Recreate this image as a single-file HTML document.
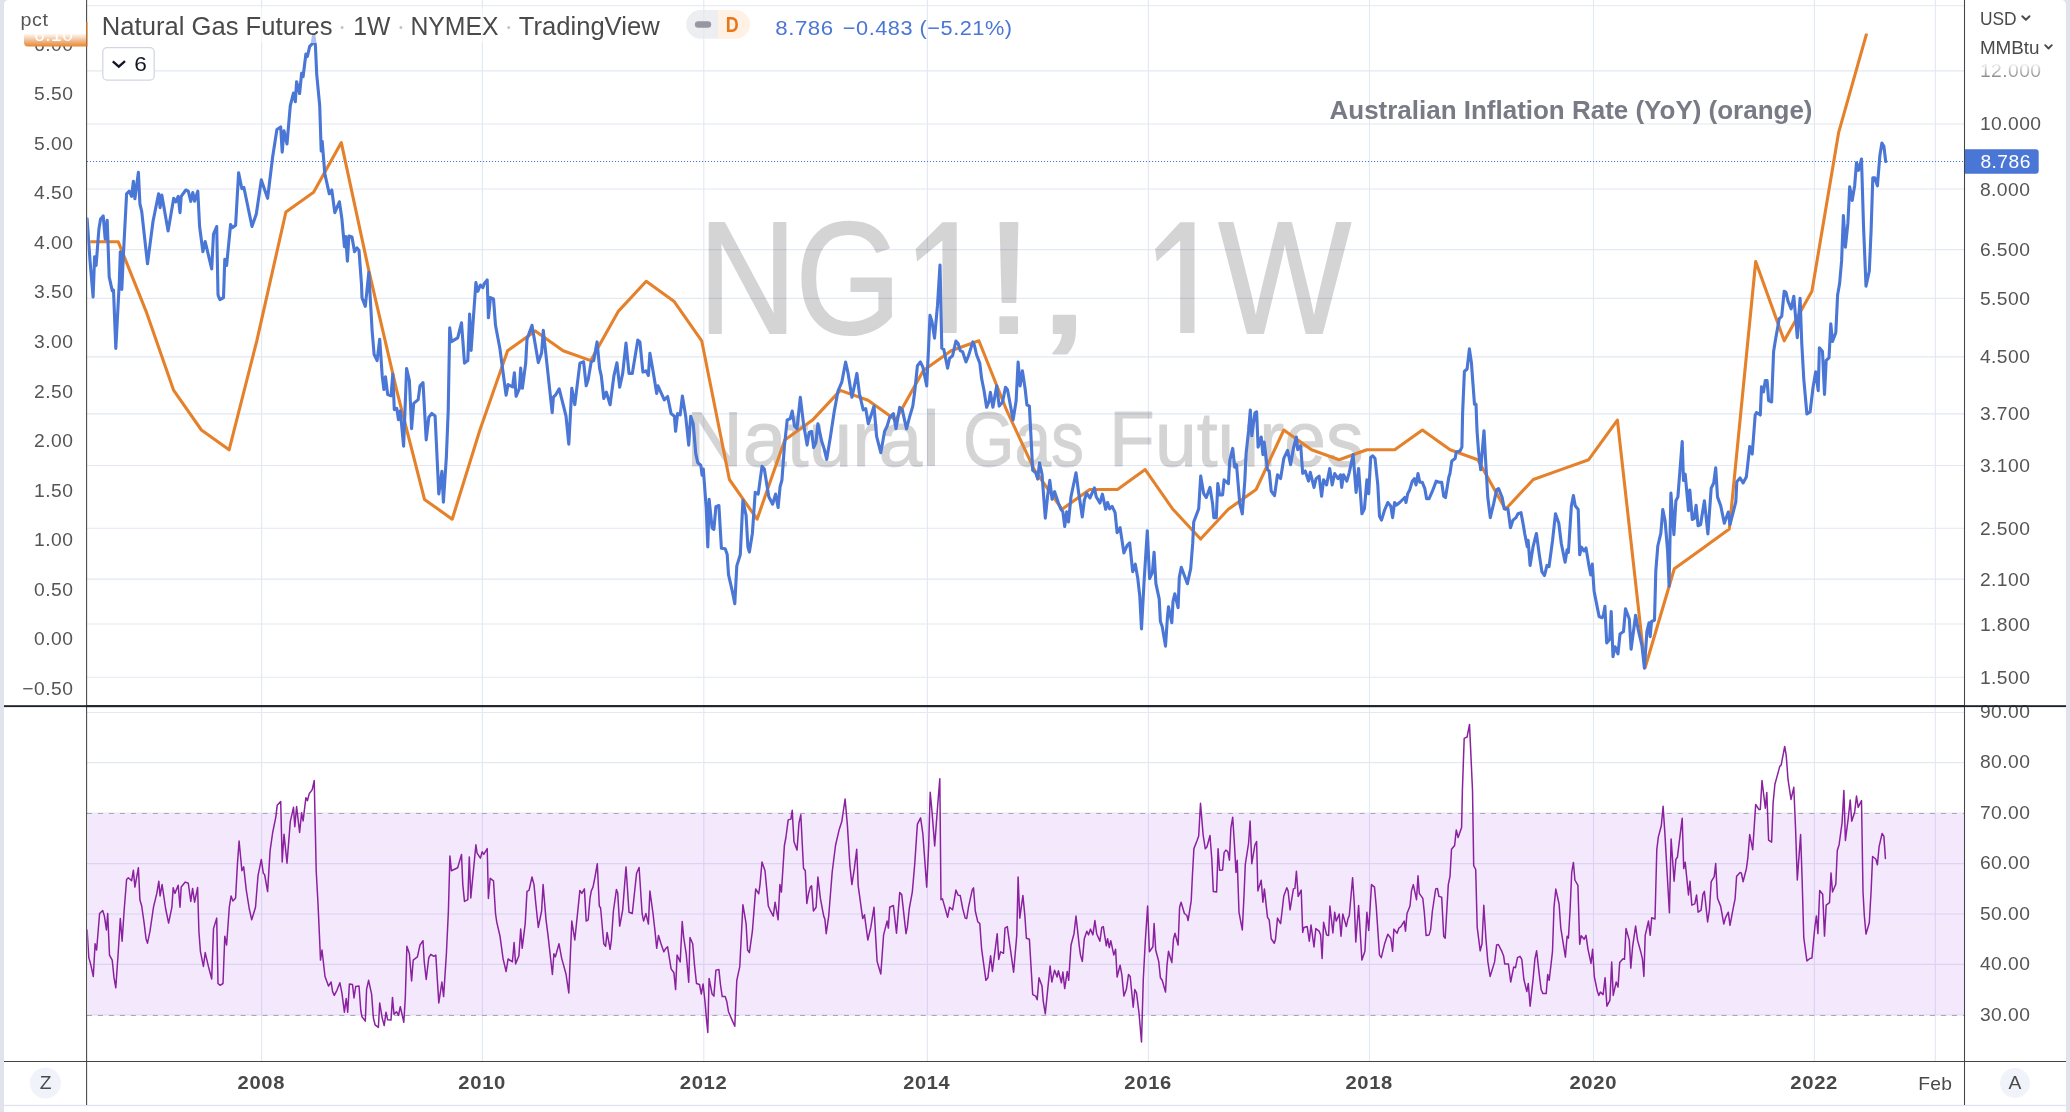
<!DOCTYPE html>
<html><head><meta charset="utf-8"><title>Natural Gas Futures</title>
<style>html,body{margin:0;padding:0;background:#fff}body{width:2070px;height:1112px;overflow:hidden;position:relative;font-family:"Liberation Sans",sans-serif}</style></head><body>
<svg width="2070" height="1112" viewBox="0 0 2070 1112" style="position:absolute;left:0;top:0" font-family="Liberation Sans, sans-serif">
<rect x="0" y="0" width="2070" height="1112" fill="#ffffff"/>
<defs><clipPath id="plot"><rect x="87.3" y="0" width="1877" height="1061"/></clipPath><linearGradient id="fadeL" x1="0" y1="0" x2="0" y2="1"><stop offset="0" stop-color="#fff" stop-opacity="1"/><stop offset="0.71" stop-color="#fff" stop-opacity="1"/><stop offset="1" stop-color="#fff" stop-opacity="0"/></linearGradient><linearGradient id="fadeR" x1="0" y1="0" x2="0" y2="1"><stop offset="0" stop-color="#fff" stop-opacity="1"/><stop offset="0.74" stop-color="#fff" stop-opacity="1"/><stop offset="1" stop-color="#fff" stop-opacity="0"/></linearGradient></defs>
<g stroke="#e2e9f3" stroke-width="1.15">
<line x1="86.6" x2="1964.5" y1="5.7" y2="5.7"/>
<line x1="86.6" x2="1964.5" y1="70.8" y2="70.8"/>
<line x1="86.6" x2="1964.5" y1="124.0" y2="124.0"/>
<line x1="86.6" x2="1964.5" y1="189.0" y2="189.0"/>
<line x1="86.6" x2="1964.5" y1="249.6" y2="249.6"/>
<line x1="86.6" x2="1964.5" y1="298.3" y2="298.3"/>
<line x1="86.6" x2="1964.5" y1="356.8" y2="356.8"/>
<line x1="86.6" x2="1964.5" y1="413.9" y2="413.9"/>
<line x1="86.6" x2="1964.5" y1="465.5" y2="465.5"/>
<line x1="86.6" x2="1964.5" y1="528.2" y2="528.2"/>
<line x1="86.6" x2="1964.5" y1="579.1" y2="579.1"/>
<line x1="86.6" x2="1964.5" y1="624.0" y2="624.0"/>
<line x1="86.6" x2="1964.5" y1="677.2" y2="677.2"/>
<line x1="86.6" x2="1964.5" y1="712.5" y2="712.5"/>
<line x1="86.6" x2="1964.5" y1="762.6" y2="762.6"/>
<line x1="86.6" x2="1964.5" y1="813.0" y2="813.0"/>
<line x1="86.6" x2="1964.5" y1="863.6" y2="863.6"/>
<line x1="86.6" x2="1964.5" y1="914.0" y2="914.0"/>
<line x1="86.6" x2="1964.5" y1="964.4" y2="964.4"/>
<line x1="86.6" x2="1964.5" y1="1015.0" y2="1015.0"/>
<line x1="261.6" x2="261.6" y1="0" y2="1061.5"/>
<line x1="482.4" x2="482.4" y1="0" y2="1061.5"/>
<line x1="703.8" x2="703.8" y1="0" y2="1061.5"/>
<line x1="927.4" x2="927.4" y1="0" y2="1061.5"/>
<line x1="1148.4" x2="1148.4" y1="0" y2="1061.5"/>
<line x1="1369.5" x2="1369.5" y1="0" y2="1061.5"/>
<line x1="1593.5" x2="1593.5" y1="0" y2="1061.5"/>
<line x1="1814.4" x2="1814.4" y1="0" y2="1061.5"/>
<line x1="1935.3" x2="1935.3" y1="0" y2="1061.5"/>
</g>
<g opacity="0.17" fill="#000" stroke="#000" stroke-linejoin="round">
<g stroke-width="2.2">
<text transform="translate(698.53,332.50) scale(0.8489,1)" font-size="160" fill="#000">N</text>
<text transform="translate(795.51,332.50) scale(0.8492,1)" font-size="160" fill="#000">G</text>
<text transform="translate(985.09,332.50) scale(1.0769,1)" font-size="160" fill="#000">!</text>
<text transform="translate(1034.43,332.50) scale(1.3313,1)" font-size="160" fill="#000">,</text>
<text transform="translate(1218.45,332.50) scale(0.8770,1)" font-size="160" fill="#000">W</text>
</g><g stroke="none">
<path d="M942.4,222.2 H956.7 V333 H942.4 V240.5 L917.1,261.5 L915.6,249 Z"/>
<path d="M1180.2,222.2 H1194.5 V333 H1180.2 V240.5 L1156.7,261.5 L1155.2,249 Z"/>
</g><g stroke-width="1.0">
<text transform="translate(686.00,466.30) scale(1.0159,1)" font-size="77.5" fill="#000">Natural</text>
<text transform="translate(963.00,466.30) scale(0.8524,1)" font-size="77.5" fill="#000">Gas</text>
<text transform="translate(1109.10,466.30) scale(0.9684,1)" font-size="77.5" fill="#000">Futures</text>
</g></g>
<rect x="88" y="813.6" width="1876.5" height="201.6" fill="#9119eb" fill-opacity="0.1"/>
<g stroke="#aea6ae" stroke-width="1.05" stroke-dasharray="5 5.97"><line x1="87" x2="1964.5" y1="813.4" y2="813.4"/><line x1="87" x2="1964.5" y1="1015.4" y2="1015.4"/></g>
<line x1="87" x2="1964.5" y1="161.5" y2="161.5" stroke="#4a76d6" stroke-width="1.05" stroke-dasharray="1.1 1.9"/>
<g clip-path="url(#plot)" fill="none" stroke-linejoin="round" stroke-linecap="round">
<path d="M90.3,241.7 L118.2,241.7 L146.0,311.1 L173.7,390.4 L201.4,430.0 L229.1,449.8 L256.8,340.8 L285.9,212.0 L313.6,192.2 L341.3,142.6 L369.0,271.4 L396.7,390.4 L424.5,499.4 L452.2,519.2 L479.9,430.0 L507.6,350.7 L535.3,330.9 L563.1,350.7 L590.8,360.6 L618.5,311.1 L646.2,281.3 L673.9,301.2 L701.7,340.8 L729.4,479.5 L757.1,519.2 L784.8,439.9 L812.5,420.1 L840.3,390.4 L868.0,400.3 L895.7,420.1 L923.4,370.5 L951.1,350.7 L978.9,340.8 L1006.6,410.2 L1034.3,469.6 L1062.0,509.3 L1089.7,489.5 L1117.5,489.5 L1145.2,469.6 L1172.9,509.3 L1200.6,539.0 L1228.3,509.3 L1256.1,489.5 L1283.8,430.0 L1311.5,449.8 L1339.2,459.7 L1366.9,449.8 L1394.7,449.8 L1422.4,430.0 L1450.1,449.8 L1477.8,459.7 L1505.5,509.3 L1533.3,479.5 L1561.0,469.6 L1588.7,459.7 L1617.4,420.1 L1645.1,667.8 L1674.3,568.7 L1701.8,548.9 L1729.3,529.1 L1755.7,261.5 L1784.2,340.8 L1811.9,291.3 L1838.6,132.7 L1866.6,33.6" stroke="#e5812b" stroke-width="3.1" stroke-linecap="butt"/>
<path d="M87.1,218.9 L90.1,261.7 L93.1,297.0 L94.6,256.7 L96.1,265.5 L98.9,229.0 L100.6,218.9 L103.2,215.9 L105.2,239.1 L107.2,220.2 L109.2,276.9 L112.2,290.7 L113.5,290.1 L115.8,348.5 L119.3,282.5 L120.3,251.7 L121.8,289.4 L123.3,256.7 L126.6,193.8 L129.1,191.2 L131.6,196.3 L133.4,181.2 L134.9,198.8 L138.4,172.3 L139.9,203.8 L141.7,211.4 L147.5,263.8 L153.0,221.5 L158.6,193.8 L160.1,207.6 L161.8,195.0 L168.1,231.0 L173.7,198.3 L175.7,201.8 L178.2,196.3 L180.0,212.6 L181.2,196.3 L185.8,190.0 L188.3,191.2 L190.8,201.3 L192.8,192.5 L194.6,201.3 L197.8,191.2 L199.6,226.5 L202.9,251.7 L205.2,241.6 L211.7,268.8 L213.5,234.0 L216.7,226.5 L218.0,294.5 L218.5,296.4 L220.0,299.6 L223.5,297.6 L224.8,259.2 L226.6,265.5 L230.6,224.5 L232.3,227.7 L235.6,225.2 L238.6,172.9 L241.9,188.7 L243.9,187.5 L252.0,226.5 L256.3,213.9 L261.3,179.9 L267.6,198.3 L272.6,157.2 L276.9,129.5 L280.7,127.0 L282.2,152.2 L284.0,130.8 L287.0,143.9 L290.3,105.6 L293.5,93.0 L295.3,101.8 L296.6,81.7 L299.6,93.5 L301.6,73.4 L303.1,76.7 L305.9,54.0 L307.4,56.5 L309.7,46.4 L312.2,43.9 L313.7,34.6 L315.4,45.2 L316.7,74.1 L319.7,105.6 L321.2,150.9 L322.2,141.4 L324.8,173.6 L329.3,193.8 L331.8,190.0 L334.8,212.6 L339.4,201.8 L341.9,218.9 L344.4,246.6 L345.7,236.6 L347.4,261.2 L348.9,236.1 L352.0,237.1 L354.5,251.7 L357.0,247.9 L359.0,250.4 L361.5,284.4 L362.0,297.6 L365.3,306.4 L368.8,272.4 L372.1,330.4 L374.1,354.3 L377.1,360.6 L379.7,339.2 L382.2,375.7 L383.9,389.5 L385.5,376.9 L387.7,394.6 L391.0,395.8 L392.8,374.4 L394.3,409.7 L396.8,408.4 L398.5,419.8 L400.3,410.9 L403.6,446.2 L406.6,368.6 L409.4,380.7 L411.6,428.6 L413.7,403.4 L418.2,399.6 L420.0,385.8 L423.0,382.7 L426.2,439.9 L428.8,417.2 L431.8,413.5 L435.1,416.0 L438.8,494.0 L441.9,471.4 L443.4,502.1 L446.4,456.3 L448.2,410.9 L449.7,327.8 L451.4,341.7 L457.7,337.9 L461.5,322.8 L464.5,363.1 L467.8,360.6 L469.6,314.0 L471.1,350.5 L475.9,282.5 L477.9,291.3 L480.4,285.0 L482.9,287.6 L484.2,283.8 L487.2,280.0 L488.4,317.8 L490.5,297.6 L493.5,298.9 L495.5,325.3 L499.8,348.0 L506.1,395.3 L508.1,384.5 L512.6,387.0 L514.4,372.7 L516.1,396.3 L519.4,388.3 L520.7,368.1 L522.4,388.3 L525.7,363.1 L527.0,339.2 L532.0,325.3 L538.3,362.6 L541.6,353.0 L543.3,330.4 L552.2,412.7 L553.4,397.1 L555.9,394.6 L559.2,388.8 L562.2,400.9 L566.0,416.0 L568.8,444.2 L571.8,388.3 L574.8,404.6 L579.9,363.1 L583.6,361.8 L586.2,385.8 L588.2,379.5 L591.2,361.8 L593.7,360.6 L597.1,341.9 L599.6,368.3 L601.3,375.9 L603.8,398.5 L606.4,392.2 L610.1,404.8 L613.9,375.9 L616.9,362.8 L619.7,387.2 L622.7,373.4 L626.0,343.1 L629.0,373.4 L632.3,373.4 L637.8,340.1 L639.9,341.9 L642.9,372.1 L645.9,370.8 L648.4,375.4 L649.9,353.2 L653.0,370.8 L656.7,393.5 L658.0,385.9 L664.3,399.8 L667.6,396.5 L671.1,413.6 L674.4,416.2 L675.6,431.3 L677.6,413.6 L680.2,414.9 L682.4,396.0 L685.7,416.2 L688.7,445.1 L690.7,416.2 L693.2,423.7 L695.8,453.9 L697.8,462.7 L700.8,465.2 L702.1,475.3 L703.3,469.0 L706.3,509.2 L707.8,547.0 L709.1,499.2 L712.1,528.1 L713.9,529.4 L715.9,506.7 L718.9,505.5 L721.4,548.3 L725.2,548.8 L727.2,554.6 L728.5,574.7 L732.3,591.1 L734.8,603.7 L736.8,565.9 L740.3,554.6 L742.9,500.4 L746.1,515.5 L747.9,547.0 L749.4,552.1 L752.4,533.2 L755.2,492.4 L758.2,494.1 L762.0,466.4 L764.3,469.0 L768.8,496.7 L772.6,504.2 L775.6,494.1 L778.1,507.5 L780.1,486.6 L781.9,480.3 L784.4,446.3 L787.2,419.9 L790.2,418.7 L792.2,411.1 L794.5,426.2 L797.0,428.8 L800.3,397.3 L803.5,423.7 L807.1,445.1 L809.1,432.5 L811.6,431.3 L813.6,447.6 L815.9,442.6 L817.9,423.7 L821.7,441.3 L824.2,448.9 L826.7,459.5 L830.5,436.3 L834.3,411.1 L838.0,391.0 L841.8,382.2 L845.6,362.0 L848.1,373.4 L851.9,397.3 L854.4,385.9 L856.9,373.4 L859.4,393.5 L863.2,409.9 L865.7,408.6 L868.3,423.7 L872.0,412.4 L874.0,406.1 L876.6,436.3 L880.8,452.7 L884.6,431.3 L887.1,426.2 L889.7,417.4 L893.4,413.6 L896.0,428.8 L899.7,407.3 L902.3,409.9 L906.5,428.8 L909.8,416.2 L912.8,406.1 L914.8,391.0 L917.4,365.8 L920.4,362.0 L922.9,367.1 L926.7,385.9 L928.2,355.7 L930.0,315.4 L932.0,321.7 L934.5,338.1 L937.5,305.4 L940.0,265.1 L941.8,348.2 L943.8,349.4 L947.6,368.3 L949.6,358.2 L952.6,355.7 L955.9,341.1 L958.2,343.6 L960.2,350.7 L962.7,351.9 L966.0,362.0 L968.5,355.7 L972.8,341.9 L974.5,345.7 L976.5,354.5 L979.8,363.3 L981.6,378.4 L984.1,391.0 L986.6,407.3 L989.1,401.1 L990.4,392.2 L992.9,407.3 L996.7,385.9 L999.2,406.1 L1002.5,402.3 L1005.5,387.2 L1007.5,389.7 L1013.1,419.9 L1016.1,401.1 L1018.1,362.0 L1020.1,385.9 L1022.4,370.8 L1025.1,388.5 L1026.9,404.8 L1029.4,406.1 L1032.7,470.3 L1035.7,472.8 L1037.7,479.1 L1039.5,462.7 L1042.0,474.1 L1045.3,518.1 L1047.8,494.2 L1049.8,480.4 L1052.1,499.3 L1054.6,491.7 L1058.4,503.0 L1060.9,509.3 L1062.9,511.9 L1064.7,526.5 L1066.7,511.9 L1068.5,521.9 L1071.0,496.7 L1076.0,472.8 L1078.5,491.7 L1082.3,516.9 L1084.3,500.5 L1086.6,493.0 L1089.9,498.0 L1094.4,487.9 L1096.2,496.7 L1099.9,503.0 L1102.4,494.2 L1105.7,509.3 L1107.6,502.5 L1109.6,508.8 L1112.1,506.3 L1115.1,512.6 L1117.1,532.7 L1120.1,527.7 L1123.9,552.9 L1127.2,545.3 L1129.7,542.8 L1132.7,571.7 L1135.3,564.2 L1137.8,578.6 L1139.8,596.3 L1141.5,629.0 L1144.1,581.2 L1147.3,530.8 L1149.6,578.6 L1152.4,572.3 L1154.1,552.2 L1155.9,583.7 L1159.2,598.8 L1160.4,621.5 L1162.2,626.5 L1165.5,646.1 L1167.5,616.4 L1168.5,606.8 L1171.8,622.7 L1173.0,601.3 L1174.8,593.8 L1178.1,607.6 L1179.3,577.4 L1181.3,567.3 L1187.4,583.7 L1190.7,568.6 L1192.7,543.4 L1193.7,522.0 L1198.7,508.8 L1200.7,476.1 L1203.7,493.7 L1206.3,497.5 L1210.0,487.4 L1212.6,503.8 L1213.8,517.6 L1216.3,517.6 L1217.8,483.6 L1219.6,494.9 L1222.6,494.9 L1224.1,479.8 L1228.4,483.6 L1229.7,460.9 L1232.7,448.4 L1234.7,467.2 L1236.5,464.7 L1239.8,503.8 L1242.3,513.8 L1244.8,481.1 L1246.1,453.4 L1248.6,430.7 L1250.3,410.1 L1251.8,435.8 L1254.9,413.1 L1256.6,411.8 L1258.1,447.1 L1261.2,437.0 L1262.9,454.6 L1264.2,442.1 L1267.5,469.8 L1269.2,471.0 L1271.2,491.2 L1274.5,495.7 L1277.5,474.8 L1280.6,478.6 L1283.8,458.4 L1287.6,450.4 L1290.6,464.7 L1293.4,448.4 L1296.4,437.0 L1297.7,449.6 L1300.7,445.8 L1302.7,473.5 L1305.2,471.0 L1308.5,481.1 L1310.3,472.3 L1314.0,487.4 L1316.1,478.6 L1319.1,476.1 L1321.6,496.2 L1323.6,479.8 L1326.6,484.9 L1329.7,468.5 L1332.2,484.9 L1334.7,473.5 L1338.0,478.6 L1340.5,474.8 L1341.7,487.4 L1343.5,474.8 L1346.8,481.1 L1349.3,472.3 L1353.1,454.6 L1356.1,492.4 L1358.6,468.5 L1361.9,513.8 L1364.4,508.8 L1366.9,479.8 L1368.7,493.7 L1370.7,457.2 L1372.7,455.9 L1375.0,458.4 L1377.8,484.9 L1379.5,516.3 L1381.5,520.1 L1384.6,510.0 L1387.8,502.5 L1390.8,506.3 L1392.6,517.6 L1394.6,502.5 L1396.6,505.0 L1399.7,502.5 L1404.7,497.5 L1406.0,502.5 L1407.7,493.7 L1409.7,489.9 L1412.3,481.1 L1414.3,478.6 L1416.0,484.9 L1418.0,473.5 L1419.8,482.3 L1422.3,482.3 L1424.8,488.6 L1426.6,498.7 L1429.1,498.7 L1432.4,491.2 L1436.2,481.1 L1439.2,482.3 L1441.7,482.3 L1443.7,496.2 L1445.5,497.5 L1448.8,477.3 L1450.0,473.5 L1451.8,460.9 L1455.1,458.4 L1456.3,452.1 L1460.1,450.9 L1461.9,447.1 L1462.6,413.1 L1464.4,371.5 L1467.1,369.0 L1469.4,348.9 L1471.4,362.7 L1472.7,380.4 L1474.5,404.3 L1476.0,404.3 L1477.0,430.7 L1478.5,450.9 L1480.7,469.8 L1484.0,430.7 L1485.8,463.5 L1487.8,497.5 L1490.3,517.6 L1493.6,503.8 L1496.6,489.9 L1498.6,488.6 L1502.2,497.5 L1504.2,508.8 L1507.9,508.8 L1510.5,527.7 L1513.0,520.1 L1516.0,517.6 L1518.0,513.8 L1521.0,512.6 L1523.1,523.9 L1524.8,534.0 L1527.3,546.6 L1528.1,540.3 L1530.1,565.4 L1533.1,546.6 L1536.4,533.5 L1539.4,555.4 L1541.9,571.7 L1544.5,575.5 L1547.0,565.4 L1549.0,566.7 L1552.5,540.9 L1555.5,513.7 L1558.8,523.3 L1561.3,543.5 L1565.1,562.3 L1567.1,549.8 L1568.4,552.3 L1571.4,505.7 L1573.4,495.6 L1575.2,505.7 L1578.2,509.5 L1579.7,554.8 L1581.5,547.2 L1584.0,551.0 L1586.0,548.0 L1589.0,566.1 L1590.8,574.9 L1592.3,564.1 L1594.1,591.3 L1596.6,603.9 L1599.1,616.5 L1602.1,617.7 L1603.4,615.2 L1604.9,606.4 L1606.7,642.9 L1609.7,639.2 L1611.2,611.5 L1613.0,656.8 L1615.0,646.7 L1618.0,653.8 L1620.0,634.1 L1623.5,631.6 L1625.5,608.9 L1629.3,619.0 L1631.1,649.2 L1635.6,615.2 L1638.1,629.1 L1641.9,645.4 L1644.4,668.1 L1646.9,631.6 L1649.0,622.8 L1650.2,636.6 L1651.5,621.5 L1654.5,620.3 L1655.8,571.2 L1657.8,546.0 L1660.8,533.4 L1662.8,509.5 L1665.1,520.8 L1667.6,551.0 L1669.1,586.3 L1670.9,493.1 L1673.9,534.6 L1675.9,500.7 L1677.9,496.9 L1682.2,441.5 L1683.5,480.5 L1685.2,474.2 L1688.5,510.7 L1689.8,490.1 L1692.3,519.5 L1694.3,518.3 L1696.1,505.2 L1698.1,525.8 L1700.6,524.6 L1704.4,500.7 L1707.9,533.9 L1711.2,488.1 L1713.7,483.0 L1715.7,467.9 L1717.5,496.9 L1720.7,505.7 L1724.3,523.3 L1728.3,512.0 L1730.0,524.6 L1735.8,501.9 L1736.8,481.8 L1740.1,478.0 L1743.1,483.0 L1746.4,476.7 L1749.7,446.5 L1752.2,454.1 L1755.2,415.0 L1756.5,412.5 L1760.3,415.0 L1761.5,386.9 L1763.5,391.9 L1765.3,380.6 L1767.1,380.6 L1768.6,400.7 L1771.6,402.0 L1773.6,351.6 L1775.4,340.3 L1779.2,318.9 L1781.7,316.3 L1784.2,291.2 L1786.0,292.4 L1788.0,301.2 L1791.2,308.8 L1793.8,296.2 L1797.3,337.7 L1800.1,298.2 L1801.8,344.0 L1803.8,379.3 L1806.9,414.0 L1810.1,412.0 L1813.1,386.9 L1815.7,371.7 L1818.2,390.6 L1819.4,347.8 L1822.5,351.6 L1824.5,394.4 L1826.2,360.4 L1829.0,357.9 L1830.8,323.9 L1832.5,341.5 L1835.8,332.7 L1837.6,294.9 L1839.6,283.6 L1841.6,260.9 L1843.4,215.6 L1845.4,247.1 L1847.9,223.2 L1849.7,186.7 L1852.2,200.5 L1854.7,185.4 L1856.5,162.7 L1858.5,170.3 L1861.5,159.0 L1863.5,225.7 L1866.0,286.1 L1869.3,271.0 L1871.1,230.7 L1872.8,177.8 L1874.8,177.8 L1877.4,185.9 L1879.9,155.2 L1881.9,143.1 L1883.9,146.4 L1885.7,161.5" stroke="#4a76d6" stroke-width="3.1"/>
<path d="M87.1,929.9 L88.8,957.6 L90.6,963.9 L93.3,976.5 L95.1,943.8 L96.6,950.0 L99.6,913.5 L102.7,910.5 L104.4,916.1 L106.4,929.9 L107.7,913.5 L109.5,955.1 L112.2,960.1 L114.0,977.7 L115.8,987.8 L118.3,951.3 L120.3,918.6 L122.1,941.2 L124.1,911.0 L126.6,879.5 L128.3,877.8 L131.6,880.8 L133.4,870.2 L134.9,887.1 L138.4,867.7 L139.9,899.7 L141.7,906.0 L144.2,923.6 L146.0,938.7 L147.5,943.2 L150.0,931.2 L153.5,907.2 L156.8,893.4 L158.8,881.3 L160.1,895.9 L162.1,884.6 L165.6,908.5 L168.6,923.1 L171.9,907.2 L173.2,887.8 L174.9,893.4 L178.2,885.3 L180.0,907.2 L181.2,887.1 L185.3,882.1 L188.3,883.3 L190.8,901.4 L192.6,888.4 L194.6,902.2 L197.6,887.6 L198.9,931.2 L200.4,951.3 L203.4,966.4 L205.2,952.6 L208.4,966.4 L211.7,979.0 L213.5,928.6 L216.7,918.1 L218.0,983.5 L220.0,985.3 L223.0,983.5 L224.8,936.2 L226.6,945.0 L229.3,907.2 L231.1,895.9 L232.9,900.9 L235.6,897.9 L237.4,864.4 L239.1,841.0 L241.9,870.7 L243.7,866.9 L246.2,889.6 L249.2,908.5 L251.7,919.8 L255.5,907.2 L258.0,875.8 L261.3,859.4 L263.3,873.2 L264.6,874.5 L267.6,891.6 L270.1,850.6 L272.6,833.0 L275.9,816.6 L277.2,805.3 L280.7,801.5 L282.2,861.9 L284.0,834.2 L287.0,863.2 L290.3,821.6 L293.5,807.3 L294.8,826.7 L296.6,806.5 L299.6,832.5 L301.6,812.8 L303.1,820.9 L305.9,797.7 L307.4,800.7 L309.2,793.9 L312.2,789.6 L314.2,780.6 L315.4,833.0 L316.2,870.7 L318.0,903.5 L319.7,941.2 L320.5,960.1 L322.0,950.0 L325.0,976.5 L328.5,986.1 L331.1,982.0 L332.6,991.6 L334.3,995.4 L336.9,990.3 L339.9,982.8 L341.9,992.9 L344.4,1012.2 L346.2,998.6 L347.7,1012.2 L349.4,984.0 L352.5,984.5 L354.0,997.9 L355.7,986.6 L359.0,986.1 L360.8,1010.5 L362.0,1016.8 L365.3,1021.1 L366.6,989.1 L368.6,980.3 L371.6,994.1 L373.4,1018.0 L375.1,1024.8 L378.4,1027.4 L379.7,1002.9 L382.2,1018.0 L384.2,1025.6 L386.0,1012.2 L387.7,1019.8 L391.0,1020.1 L392.5,997.4 L394.0,1014.3 L396.5,1011.7 L398.5,1015.5 L400.3,1006.7 L402.3,1015.5 L403.8,1022.3 L405.3,997.9 L406.9,946.3 L409.4,953.8 L411.6,981.0 L413.2,960.1 L417.4,956.8 L420.0,945.0 L423.0,940.7 L424.2,961.4 L426.2,979.5 L428.8,957.6 L430.8,954.3 L433.8,956.3 L435.8,955.1 L438.8,1002.9 L441.9,982.0 L443.6,996.6 L446.4,953.8 L448.4,911.0 L449.9,856.1 L451.4,870.7 L457.7,867.7 L461.5,854.4 L462.8,884.6 L464.5,901.4 L467.8,899.7 L469.3,856.9 L470.8,897.9 L475.9,844.8 L477.1,853.1 L480.4,858.1 L482.2,851.8 L483.7,854.4 L487.2,848.6 L488.4,898.4 L490.2,878.3 L493.5,880.8 L495.5,913.5 L496.8,922.3 L500.0,936.2 L503.1,958.9 L506.1,971.5 L508.1,958.9 L512.4,961.9 L514.1,942.5 L515.6,963.9 L518.9,955.8 L520.7,929.1 L522.2,948.3 L525.2,923.6 L527.0,891.4 L529.0,890.4 L532.0,877.0 L534.0,884.6 L535.8,903.5 L538.3,927.4 L541.6,911.0 L543.1,884.6 L545.9,918.6 L548.4,938.7 L552.4,974.5 L553.9,953.8 L555.4,956.8 L559.0,943.8 L561.7,958.4 L566.0,974.0 L568.8,992.9 L571.8,921.1 L574.8,940.0 L579.9,890.4 L581.9,893.4 L584.4,888.9 L586.2,921.1 L588.2,919.8 L590.0,898.4 L591.3,890.9 L593.0,887.1 L595.0,877.0 L597.3,863.7 L599.3,906.0 L600.6,908.0 L603.8,943.8 L605.6,946.3 L607.1,932.4 L610.1,949.3 L611.4,940.0 L613.4,911.0 L616.4,889.6 L617.7,892.9 L619.7,926.1 L622.7,909.8 L626.0,866.9 L629.0,912.3 L632.3,913.5 L636.6,873.2 L639.1,867.5 L642.1,913.5 L643.6,921.1 L645.9,913.5 L648.4,924.1 L649.9,890.9 L653.0,913.5 L655.0,931.2 L656.7,948.3 L658.5,935.4 L661.0,943.8 L663.8,951.8 L665.5,948.8 L667.6,946.8 L671.1,968.9 L673.9,972.7 L675.6,989.6 L677.1,955.1 L680.2,961.9 L682.2,921.6 L683.7,937.5 L686.2,953.8 L688.7,982.3 L690.0,937.5 L692.7,943.8 L694.5,965.2 L696.5,983.5 L699.5,984.5 L701.3,994.1 L703.1,984.0 L705.1,1002.9 L706.6,1020.6 L707.8,1032.4 L709.1,978.5 L712.1,994.1 L713.9,996.1 L715.9,970.2 L718.9,969.4 L720.4,984.0 L722.2,996.6 L725.2,996.6 L726.7,1001.2 L728.5,1011.7 L732.3,1020.6 L734.8,1026.3 L736.8,980.3 L739.8,966.4 L742.9,904.7 L746.1,923.6 L747.6,950.0 L749.4,952.6 L752.4,931.2 L755.7,888.9 L758.7,893.9 L760.0,884.6 L762.0,861.9 L765.0,870.7 L768.3,906.0 L770.0,909.8 L773.3,916.1 L775.1,902.2 L778.1,919.8 L779.9,884.6 L781.4,892.1 L784.4,845.5 L785.9,837.5 L788.2,819.9 L790.9,819.1 L792.2,810.3 L794.0,841.8 L797.0,850.1 L799.0,822.9 L800.8,814.8 L803.5,868.2 L805.3,870.7 L806.8,903.5 L808.6,893.4 L810.3,887.1 L811.6,885.8 L813.4,911.0 L816.1,907.2 L817.9,877.0 L820.4,898.4 L823.7,916.1 L824.9,919.1 L826.2,933.7 L828.7,916.1 L832.2,872.0 L835.5,845.5 L839.3,829.2 L841.8,821.6 L845.1,799.0 L847.4,825.4 L849.9,865.7 L851.9,884.6 L854.4,868.2 L856.7,849.3 L858.2,885.8 L862.7,918.6 L864.5,914.8 L867.8,940.0 L870.8,927.4 L874.0,907.2 L877.1,961.4 L880.8,974.0 L883.6,934.9 L887.1,921.1 L888.4,928.1 L889.7,907.2 L893.4,905.5 L896.5,933.2 L899.7,892.6 L901.7,894.6 L906.0,933.7 L907.3,927.4 L909.3,908.5 L912.3,892.1 L914.8,863.2 L917.4,824.1 L920.6,817.8 L922.9,834.2 L926.7,887.1 L928.7,845.5 L930.2,792.2 L932.0,811.5 L934.7,846.0 L937.5,807.8 L939.8,778.8 L941.0,899.7 L942.5,898.9 L947.6,917.3 L949.6,907.2 L952.6,909.8 L955.9,890.1 L958.2,895.2 L960.2,895.4 L962.7,908.5 L965.2,918.1 L966.7,918.6 L968.5,907.2 L972.3,889.6 L973.5,887.8 L975.3,911.0 L977.8,921.8 L979.8,923.6 L981.6,948.8 L985.9,980.3 L987.9,977.7 L990.6,955.8 L992.4,971.5 L997.2,933.7 L998.7,959.4 L1000.5,951.8 L1003.5,953.3 L1005.0,928.1 L1007.3,926.6 L1010.0,946.3 L1013.6,972.2 L1016.8,934.9 L1018.1,877.0 L1019.8,918.1 L1022.9,895.4 L1024.9,916.1 L1026.4,938.2 L1029.4,939.2 L1032.7,994.6 L1035.7,996.1 L1037.2,999.7 L1039.0,977.7 L1042.0,986.1 L1043.3,1001.7 L1045.3,1013.8 L1047.8,988.6 L1050.1,965.9 L1051.8,982.0 L1054.6,970.2 L1057.1,977.0 L1058.4,970.7 L1061.4,982.8 L1062.9,972.0 L1064.7,988.6 L1067.2,971.5 L1068.7,980.3 L1071.0,945.0 L1074.0,933.7 L1076.0,916.1 L1079.3,946.3 L1080.5,955.1 L1082.3,961.4 L1084.3,938.7 L1086.8,931.2 L1088.6,934.9 L1090.4,929.1 L1092.9,934.9 L1094.9,920.6 L1096.7,933.7 L1099.9,941.2 L1101.8,927.4 L1103.3,926.6 L1106.3,945.8 L1107.6,938.7 L1109.3,947.5 L1110.8,940.7 L1113.8,955.1 L1115.6,949.3 L1117.1,977.0 L1120.1,965.2 L1121.9,975.2 L1123.9,996.1 L1126.4,989.1 L1128.5,974.5 L1130.2,976.5 L1133.2,1007.2 L1134.8,989.6 L1136.5,992.9 L1139.0,1013.0 L1141.5,1042.0 L1143.3,979.0 L1145.3,941.2 L1147.6,906.0 L1149.4,951.8 L1152.9,946.8 L1154.1,923.6 L1155.7,950.0 L1158.7,961.4 L1160.4,977.7 L1162.2,980.3 L1165.5,992.1 L1167.0,965.2 L1168.5,951.3 L1171.8,962.6 L1173.5,938.7 L1175.0,933.2 L1178.1,945.0 L1179.6,907.2 L1181.1,902.2 L1184.4,913.5 L1186.9,915.5 L1188.1,920.6 L1191.2,900.9 L1192.4,875.8 L1193.9,848.6 L1196.9,841.0 L1198.7,836.0 L1200.5,803.2 L1203.2,835.5 L1205.3,848.8 L1207.0,846.8 L1210.0,835.5 L1211.8,859.4 L1213.3,891.4 L1216.6,892.1 L1218.1,848.8 L1219.6,870.2 L1222.6,870.0 L1224.1,852.6 L1225.9,850.1 L1227.9,851.8 L1229.4,860.2 L1230.9,827.9 L1232.7,817.3 L1234.5,845.5 L1236.0,872.5 L1237.2,860.2 L1239.0,912.3 L1242.3,929.9 L1244.0,895.9 L1245.3,864.4 L1248.6,843.0 L1250.1,821.1 L1251.8,863.7 L1254.9,845.0 L1256.6,841.5 L1257.9,890.9 L1261.2,880.3 L1262.9,902.2 L1264.4,888.9 L1267.5,917.3 L1269.2,919.8 L1271.2,938.7 L1274.3,943.2 L1275.5,939.2 L1277.5,918.1 L1280.6,923.6 L1281.8,913.5 L1283.8,895.9 L1286.8,887.8 L1288.1,890.9 L1290.1,909.8 L1293.4,888.9 L1294.9,888.4 L1296.4,871.2 L1298.2,896.4 L1301.2,890.1 L1302.7,932.4 L1304.0,927.4 L1307.2,926.6 L1309.3,941.2 L1311.0,924.9 L1314.0,947.0 L1315.8,928.6 L1319.1,931.2 L1320.6,934.9 L1322.1,958.4 L1323.6,922.3 L1326.6,934.9 L1328.6,935.4 L1329.9,906.0 L1332.9,932.9 L1334.7,912.3 L1336.2,921.1 L1339.2,914.0 L1341.0,936.2 L1342.8,914.0 L1346.3,926.6 L1348.0,918.6 L1349.3,915.5 L1352.6,877.8 L1354.3,903.5 L1355.8,942.0 L1358.6,905.5 L1361.9,960.1 L1364.9,951.3 L1366.9,912.3 L1368.7,930.4 L1370.2,906.0 L1371.5,884.6 L1374.5,887.1 L1376.2,906.0 L1379.5,955.1 L1381.3,957.6 L1384.6,943.8 L1387.8,934.2 L1390.8,938.2 L1392.6,951.3 L1393.9,929.1 L1397.1,933.2 L1398.9,928.1 L1400.9,926.6 L1404.2,921.1 L1405.5,931.2 L1407.0,913.5 L1410.0,906.0 L1411.5,890.9 L1413.3,884.6 L1416.5,899.7 L1418.0,875.8 L1419.3,893.4 L1422.8,898.4 L1424.3,912.3 L1426.1,935.4 L1429.1,934.9 L1430.6,929.9 L1432.4,911.0 L1435.7,888.9 L1437.4,888.4 L1438.9,896.4 L1441.7,897.2 L1443.7,936.2 L1445.2,938.2 L1448.3,884.6 L1450.0,876.3 L1451.5,849.3 L1454.6,845.5 L1456.3,829.9 L1458.1,837.5 L1461.6,827.4 L1462.4,790.0 L1464.2,738.4 L1467.1,737.0 L1469.5,724.4 L1472.5,790.0 L1473.7,865.7 L1475.7,869.5 L1477.2,927.4 L1480.2,950.8 L1482.0,943.8 L1483.8,905.2 L1485.8,937.0 L1487.8,961.4 L1490.1,976.5 L1494.6,961.9 L1496.6,945.0 L1498.4,944.5 L1501.6,950.8 L1503.7,956.3 L1504.7,963.9 L1508.4,963.9 L1510.7,982.0 L1513.7,966.9 L1515.5,967.7 L1517.5,957.6 L1520.0,956.3 L1521.8,959.4 L1523.8,979.0 L1526.8,991.6 L1528.3,983.5 L1530.1,1006.2 L1533.1,979.0 L1534.9,958.9 L1536.6,950.8 L1539.2,974.0 L1541.2,989.8 L1542.9,993.6 L1546.2,993.6 L1547.7,974.5 L1549.2,980.3 L1552.5,951.3 L1554.0,907.2 L1555.8,889.1 L1559.1,904.2 L1560.8,928.1 L1565.4,957.1 L1567.1,936.2 L1568.4,938.2 L1570.1,909.8 L1571.7,872.5 L1573.4,862.4 L1574.9,880.0 L1577.9,885.3 L1579.7,944.3 L1581.2,935.7 L1584.2,939.2 L1586.0,935.4 L1588.0,949.3 L1591.0,963.4 L1592.6,949.3 L1594.3,976.5 L1597.3,991.1 L1598.8,995.4 L1600.4,992.1 L1603.1,994.6 L1605.1,977.7 L1606.9,1006.2 L1609.9,1000.4 L1611.7,961.9 L1613.2,995.4 L1616.2,982.0 L1618.0,987.1 L1619.7,962.6 L1623.0,958.8 L1624.5,959.3 L1626.0,928.5 L1629.3,940.4 L1630.8,968.1 L1632.6,946.7 L1635.6,926.0 L1637.6,940.4 L1640.7,951.7 L1642.4,958.8 L1643.9,976.4 L1645.2,935.3 L1648.5,921.0 L1650.2,935.3 L1651.7,917.7 L1655.0,919.0 L1656.8,849.7 L1658.3,837.1 L1661.3,825.8 L1663.1,806.2 L1664.8,832.1 L1667.6,881.2 L1669.4,912.7 L1671.1,838.9 L1674.1,881.2 L1675.9,859.3 L1677.4,857.3 L1682.2,818.2 L1683.7,868.6 L1685.2,862.3 L1688.5,895.0 L1690.0,881.2 L1691.8,905.1 L1694.8,903.9 L1696.6,895.0 L1698.1,912.2 L1701.1,910.2 L1702.9,894.3 L1704.4,891.3 L1707.6,922.0 L1709.4,910.2 L1711.2,881.7 L1714.2,876.7 L1715.7,863.6 L1717.5,898.3 L1720.7,906.4 L1723.8,924.0 L1725.5,917.7 L1728.3,912.2 L1730.0,925.3 L1733.3,907.6 L1735.1,898.8 L1736.6,876.2 L1740.1,872.4 L1741.4,873.1 L1743.1,881.7 L1746.4,868.6 L1747.9,857.3 L1749.7,834.6 L1752.7,849.7 L1755.7,804.4 L1758.8,809.4 L1760.3,809.4 L1762.0,780.5 L1765.3,808.2 L1766.8,792.6 L1768.6,840.2 L1771.6,842.2 L1773.1,803.1 L1774.9,784.2 L1777.9,773.4 L1779.7,766.6 L1781.2,764.9 L1784.7,746.5 L1786.2,755.3 L1788.0,779.2 L1791.0,799.4 L1793.8,787.3 L1795.5,827.1 L1797.3,879.9 L1800.6,834.6 L1802.1,878.7 L1803.8,937.9 L1806.9,961.0 L1809.9,958.5 L1811.9,958.0 L1814.9,926.5 L1816.4,915.9 L1817.9,933.6 L1819.7,890.5 L1822.7,894.3 L1824.5,936.1 L1826.2,905.1 L1829.5,902.6 L1831.0,872.9 L1832.5,892.0 L1835.8,884.2 L1837.3,850.5 L1839.1,844.7 L1842.1,822.5 L1843.9,790.5 L1845.4,840.4 L1848.4,817.0 L1850.2,799.9 L1851.7,821.3 L1854.7,811.9 L1856.5,796.1 L1858.2,807.4 L1861.5,800.6 L1863.0,891.8 L1864.3,915.2 L1866.0,934.1 L1869.3,922.7 L1871.1,891.3 L1872.6,856.5 L1875.8,859.0 L1877.4,864.8 L1879.1,846.7 L1882.1,833.4 L1883.9,836.4 L1885.4,858.5" stroke="#8a22a0" stroke-width="1.5"/>
</g>
<rect x="4" y="705.2" width="2062" height="1.9" fill="#1e222d"/>
<rect x="100" y="8" width="563" height="35" fill="#fff" fill-opacity="0.55"/>
<text transform="translate(101.85,34.60) scale(1.0127,1)" font-size="25.3" fill="#4a4a4a">Natural Gas Futures</text>
<text transform="translate(353.14,34.60) scale(0.9781,1)" font-size="25.3" fill="#4a4a4a">1W</text>
<text transform="translate(410.42,34.60) scale(0.9797,1)" font-size="25.3" fill="#4a4a4a">NYMEX</text>
<text transform="translate(518.79,34.60) scale(1.0125,1)" font-size="25.3" fill="#4a4a4a">TradingView</text>
<circle cx="342.1" cy="27.5" r="1.5" fill="#c0c3cc"/>
<circle cx="400.9" cy="27.5" r="1.5" fill="#c0c3cc"/>
<circle cx="508.7" cy="27.5" r="1.5" fill="#c0c3cc"/>
<path d="M700.6,10 H718 V38.8 H700.6 A14.4,14.4 0 0 1 700.6,10 Z" fill="#e6e8ee" fill-opacity="0.75"/>
<path d="M718,10 H735.6 A14.4,14.4 0 0 1 735.6,38.8 H718 Z" fill="#fff1e3"/>
<rect x="694.9" y="21.2" width="16.3" height="6.6" rx="3.3" fill="#9598a1"/>
<text transform="translate(725.73,31.80) scale(0.8322,1)" font-size="21.6" fill="#e5781e" font-weight="bold">D</text>
<text transform="translate(775.25,34.60) scale(1.0613,1)" font-size="21.0" fill="#4a76d6" letter-spacing="0.5">8.786</text>
<text transform="translate(842.87,34.60) scale(1.0354,1)" font-size="21.0" fill="#4a76d6" letter-spacing="0.5">−0.483 (−5.21%)</text>
<rect x="102.8" y="47.6" width="51.4" height="32.5" rx="4.2" fill="#fff" fill-opacity="0.92" stroke="#d3d6e2" stroke-width="1.25"/>
<path d="M112.8,61.3 L118.8,66.7 L125.0,61.1" fill="none" stroke="#131722" stroke-width="2.3" stroke-linecap="butt" stroke-linejoin="miter"/>
<text transform="translate(134.16,71.00) scale(1.0811,1)" font-size="21.0" fill="#131722">6</text>
<text x="1329.5" y="118.8" font-size="26" font-weight="bold" fill="#787b86" id="ann" textLength="483" lengthAdjust="spacing">Australian Inflation Rate (YoY) (orange)</text>
<rect x="4" y="0" width="82.3" height="1106" fill="#fff"/>
<rect x="1965.1" y="0" width="101" height="1106" fill="#fff"/>
<rect x="4" y="1061.5" width="2062" height="44.6" fill="#fff"/>
<rect x="4" y="1106" width="2062" height="6" fill="#fff"/>
<rect x="4" y="1104.8" width="2062" height="1.3" fill="#dfe3ee"/>
<text transform="translate(73.3,50.7) scale(1.06,1)" font-size="18.2" fill="#555555" text-anchor="end" letter-spacing="0.4">6.00</text>
<text transform="translate(73.3,100.2) scale(1.06,1)" font-size="18.2" fill="#555555" text-anchor="end" letter-spacing="0.4">5.50</text>
<text transform="translate(73.3,149.8) scale(1.06,1)" font-size="18.2" fill="#555555" text-anchor="end" letter-spacing="0.4">5.00</text>
<text transform="translate(73.3,199.3) scale(1.06,1)" font-size="18.2" fill="#555555" text-anchor="end" letter-spacing="0.4">4.50</text>
<text transform="translate(73.3,248.9) scale(1.06,1)" font-size="18.2" fill="#555555" text-anchor="end" letter-spacing="0.4">4.00</text>
<text transform="translate(73.3,298.4) scale(1.06,1)" font-size="18.2" fill="#555555" text-anchor="end" letter-spacing="0.4">3.50</text>
<text transform="translate(73.3,348.0) scale(1.06,1)" font-size="18.2" fill="#555555" text-anchor="end" letter-spacing="0.4">3.00</text>
<text transform="translate(73.3,397.5) scale(1.06,1)" font-size="18.2" fill="#555555" text-anchor="end" letter-spacing="0.4">2.50</text>
<text transform="translate(73.3,447.1) scale(1.06,1)" font-size="18.2" fill="#555555" text-anchor="end" letter-spacing="0.4">2.00</text>
<text transform="translate(73.3,496.6) scale(1.06,1)" font-size="18.2" fill="#555555" text-anchor="end" letter-spacing="0.4">1.50</text>
<text transform="translate(73.3,546.2) scale(1.06,1)" font-size="18.2" fill="#555555" text-anchor="end" letter-spacing="0.4">1.00</text>
<text transform="translate(73.3,595.7) scale(1.06,1)" font-size="18.2" fill="#555555" text-anchor="end" letter-spacing="0.4">0.50</text>
<text transform="translate(73.3,645.3) scale(1.06,1)" font-size="18.2" fill="#555555" text-anchor="end" letter-spacing="0.4">0.00</text>
<text transform="translate(73.3,694.8) scale(1.06,1)" font-size="18.2" fill="#555555" text-anchor="end" letter-spacing="0.4">−0.50</text>
<path d="M24,12 H86.3 V46.6 H28 A4,4 0 0 1 24,42.6 Z" fill="#e5812b"/>
<text transform="translate(73.3,40.8) scale(1.06,1)" font-size="18.2" fill="#fff" text-anchor="end" letter-spacing="0.4">6.10</text>
<rect x="86.3" y="22" width="1" height="24.6" fill="#e5812b"/>
<rect x="4" y="0" width="82.3" height="47" fill="url(#fadeL)"/>
<text transform="translate(20.5,26.1) scale(1.06,1)" font-size="18.6" fill="#555" text-anchor="start" letter-spacing="0.6">pct</text>
<text transform="translate(1979.9,77.3) scale(1.06,1)" font-size="18.2" fill="#555555" text-anchor="start" letter-spacing="0.4">12.000</text>
<text transform="translate(1979.9,130.4) scale(1.06,1)" font-size="18.2" fill="#555555" text-anchor="start" letter-spacing="0.4">10.000</text>
<text transform="translate(1979.9,195.5) scale(1.06,1)" font-size="18.2" fill="#555555" text-anchor="start" letter-spacing="0.4">8.000</text>
<text transform="translate(1979.9,256.1) scale(1.06,1)" font-size="18.2" fill="#555555" text-anchor="start" letter-spacing="0.4">6.500</text>
<text transform="translate(1979.9,304.8) scale(1.06,1)" font-size="18.2" fill="#555555" text-anchor="start" letter-spacing="0.4">5.500</text>
<text transform="translate(1979.9,363.3) scale(1.06,1)" font-size="18.2" fill="#555555" text-anchor="start" letter-spacing="0.4">4.500</text>
<text transform="translate(1979.9,420.4) scale(1.06,1)" font-size="18.2" fill="#555555" text-anchor="start" letter-spacing="0.4">3.700</text>
<text transform="translate(1979.9,472.0) scale(1.06,1)" font-size="18.2" fill="#555555" text-anchor="start" letter-spacing="0.4">3.100</text>
<text transform="translate(1979.9,534.7) scale(1.06,1)" font-size="18.2" fill="#555555" text-anchor="start" letter-spacing="0.4">2.500</text>
<text transform="translate(1979.9,585.5) scale(1.06,1)" font-size="18.2" fill="#555555" text-anchor="start" letter-spacing="0.4">2.100</text>
<text transform="translate(1979.9,630.5) scale(1.06,1)" font-size="18.2" fill="#555555" text-anchor="start" letter-spacing="0.4">1.800</text>
<text transform="translate(1979.9,683.6) scale(1.06,1)" font-size="18.2" fill="#555555" text-anchor="start" letter-spacing="0.4">1.500</text>
<text transform="translate(1979.9,718.3) scale(1.06,1)" font-size="18.2" fill="#555555" text-anchor="start" letter-spacing="0.4">90.00</text>
<text transform="translate(1979.9,768.4) scale(1.06,1)" font-size="18.2" fill="#555555" text-anchor="start" letter-spacing="0.4">80.00</text>
<text transform="translate(1979.9,818.8) scale(1.06,1)" font-size="18.2" fill="#555555" text-anchor="start" letter-spacing="0.4">70.00</text>
<text transform="translate(1979.9,869.4) scale(1.06,1)" font-size="18.2" fill="#555555" text-anchor="start" letter-spacing="0.4">60.00</text>
<text transform="translate(1979.9,919.8) scale(1.06,1)" font-size="18.2" fill="#555555" text-anchor="start" letter-spacing="0.4">50.00</text>
<text transform="translate(1979.9,970.2) scale(1.06,1)" font-size="18.2" fill="#555555" text-anchor="start" letter-spacing="0.4">40.00</text>
<text transform="translate(1979.9,1020.8) scale(1.06,1)" font-size="18.2" fill="#555555" text-anchor="start" letter-spacing="0.4">30.00</text>
<rect x="1965.6" y="0" width="100" height="84" fill="url(#fadeR)"/>
<text transform="translate(1979.90,25.30) scale(0.9501,1)" font-size="18.3" fill="#4a4a4a">USD</text>
<text transform="translate(1979.89,54.20) scale(1.0296,1)" font-size="18.3" fill="#4a4a4a">MMBtu</text>
<path d="M2022.3,16.3 L2025.9,19.7 L2029.5,16.3" fill="none" stroke="#4a4a4a" stroke-width="2.0" stroke-linecap="round" stroke-linejoin="round"/>
<path d="M2045.2,45.2 L2048.5,48.5 L2051.8,45.2" fill="none" stroke="#4a4a4a" stroke-width="1.9" stroke-linecap="round" stroke-linejoin="round"/>
<path d="M1965,149.2 H2035.7 A3,3 0 0 1 2038.7,152.2 V170.7 A3,3 0 0 1 2035.7,173.7 H1965 Z" fill="#4a76d6"/>
<text transform="translate(1980.4,168.0) scale(1.06,1)" font-size="18.2" fill="#fff" text-anchor="start" letter-spacing="0.4">8.786</text>
<text transform="translate(237.54,1089.44) scale(1.0964,1)" font-size="18.4" fill="#484848" font-weight="bold" letter-spacing="0.6">2008</text>
<text transform="translate(458.34,1089.44) scale(1.1013,1)" font-size="18.4" fill="#484848" font-weight="bold" letter-spacing="0.6">2010</text>
<text transform="translate(679.74,1089.44) scale(1.1013,1)" font-size="18.4" fill="#484848" font-weight="bold" letter-spacing="0.6">2012</text>
<text transform="translate(903.35,1089.44) scale(1.0844,1)" font-size="18.4" fill="#484848" font-weight="bold" letter-spacing="0.6">2014</text>
<text transform="translate(1124.34,1089.44) scale(1.0988,1)" font-size="18.4" fill="#484848" font-weight="bold" letter-spacing="0.6">2016</text>
<text transform="translate(1345.44,1089.44) scale(1.0964,1)" font-size="18.4" fill="#484848" font-weight="bold" letter-spacing="0.6">2018</text>
<text transform="translate(1569.44,1089.44) scale(1.1013,1)" font-size="18.4" fill="#484848" font-weight="bold" letter-spacing="0.6">2020</text>
<text transform="translate(1790.34,1089.44) scale(1.1013,1)" font-size="18.4" fill="#484848" font-weight="bold" letter-spacing="0.6">2022</text>
<text transform="translate(1935.3,1089.6) scale(1.06,1)" font-size="18.2" fill="#4a4a4a" text-anchor="middle" letter-spacing="0.2">Feb</text>
<circle cx="45.4" cy="1083" r="15.5" fill="#f0f3fa"/>
<text transform="translate(45.6,1089.4) scale(1.06,1)" font-size="18.2" fill="#4a4a4a" text-anchor="middle" letter-spacing="0">Z</text>
<circle cx="2015" cy="1083" r="15" fill="#f0f3fa"/>
<text transform="translate(2015,1089.4) scale(1.06,1)" font-size="18.2" fill="#4a4a4a" text-anchor="middle" letter-spacing="0">A</text>
<g stroke="#444444" stroke-width="1.05">
<line x1="86.6" x2="86.6" y1="0" y2="1105"/>
<line x1="1964.5" x2="1964.5" y1="0" y2="1105"/>
<line x1="4" x2="2066" y1="1061.5" y2="1061.5"/>
</g>
<rect x="86.3" y="22" width="1" height="24.6" fill="#e5812b"/>
<rect x="4" y="705.2" width="2062" height="1.9" fill="#1e222d"/>
<path d="M0,0 H8.5 A4.5,4.5 0 0 0 4,4.5 V1112 H0 Z" fill="#e0e3eb"/>
<path d="M2070,0 H2061.5 A4.5,4.5 0 0 1 2066,4.5 V1112 H2070 Z" fill="#e0e3eb"/>
</svg>
</body></html>
